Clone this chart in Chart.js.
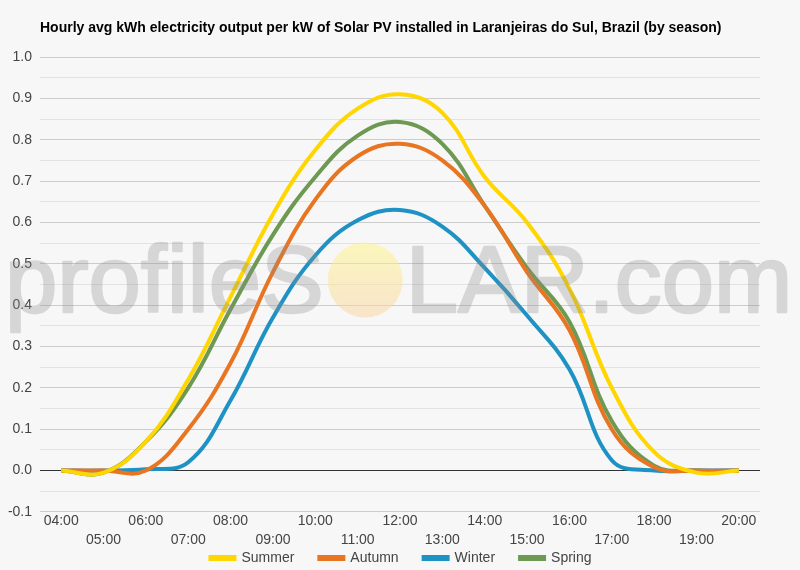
<!DOCTYPE html>
<html>
<head>
<meta charset="utf-8">
<script src="https://cdn.jsdelivr.net/npm/chart.js@4.4.1/dist/chart.umd.min.js"></script>
<style>
  html, body { margin: 0; padding: 0; background: #f7f7f7; }
  #wrap { width: 800px; height: 570px; }
</style>
</head>
<body>
<div id="wrap"><canvas id="pv_chart" width="800" height="570"></canvas></div>
<script>
// hourly values
var hours = ['04:00', '05:00', '06:00', '07:00', '08:00', '09:00', '10:00', '11:00', '12:00',
             '13:00', '14:00', '15:00', '16:00', '17:00', '18:00', '19:00', '20:00'];
var summer = [0, -0.005, 0.07, 0.22, 0.42, 0.62, 0.775, 0.875, 0.91, 0.865, 0.71, 0.60, 0.44, 0.20, 0.045, -0.005, 0];
var autumn = [0, 0, 0, 0.10, 0.26, 0.48, 0.655, 0.76, 0.79, 0.75, 0.64, 0.48, 0.34, 0.10, 0.008, 0, 0];
var winter = [0, 0, 0.003, 0.02, 0.17, 0.37, 0.52, 0.605, 0.63, 0.59, 0.49, 0.375, 0.245, 0.025, 0, 0, 0];
var spring = [0, -0.005, 0.07, 0.20, 0.39, 0.57, 0.71, 0.81, 0.843, 0.79, 0.64, 0.49, 0.36, 0.12, 0.012, 0, 0];

var titleText = 'Hourly avg kWh electricity output per kW of Solar PV installed in Laranjeiras do Sul, Brazil (by season)';
var FONT = 'Arial, "Liberation Sans", sans-serif';

// even hours on the first row, odd hours on the second
var xLabels = hours.map(function (h, i) { return i % 2 ? ['', h] : [h]; });

function series(label, data, color) {
    return {
        label: label,
        data: data,
        borderColor: color,
        backgroundColor: color,
        borderWidth: 4,
        tension: 0.4,
        pointRadius: 0,
        fill: false
    };
}

// watermark is drawn once on its own canvas, then laid over the plot semi-transparent
function makeWatermark() {
    var c = document.createElement('canvas');
    c.width = 800; c.height = 570;
    var w = c.getContext('2d');
    w.font = '94px ' + FONT;
    w.fillStyle = 'rgb(140,140,140)';
    w.strokeStyle = 'rgb(140,140,140)';
    w.lineWidth = 2.5;
    w.lineJoin = 'round';
    var x0 = 5, base = 312;
    w.fillText('profileS', x0, base);
    w.strokeText('profileS', x0, base);
    var w1 = w.measureText('profileS').width;
    var r = 37.5, cx = x0 + w1 + r + 4;
    w.fillText('LAR.com', cx + r + 3, base);
    w.strokeText('LAR.com', cx + r + 3, base);
    return { img: c, cx: cx, cy: 280, r: r };
}
var mark = makeWatermark();

var LEGEND_Y = 558;
var LEGEND_SHIFT = 21;

var decor = {
    id: 'decor',
    afterInit: function (chart) {
        // the legend shares its row with the second line of hour labels
        var lg = chart.legend;
        var fit = lg.fit;
        lg.fit = function () {
            fit.call(this);
            this.height = 20;
        };
        var draw = lg.draw;
        lg.draw = function () {
            var t = this.top, l = this.left, r = this.right;
            var opts = this.options.labels;
            this.top = LEGEND_Y - opts.padding - opts.font.size / 2;
            this.left = l + LEGEND_SHIFT;
            this.right = r + LEGEND_SHIFT;
            draw.call(this);
            this.top = t; this.left = l; this.right = r;
        };
    },
    beforeDraw: function (chart) {
        var ctx = chart.ctx;
        ctx.save();
        ctx.fillStyle = '#f7f7f7';
        ctx.fillRect(0, 0, chart.width, chart.height);
        ctx.fillStyle = '#000';
        ctx.font = 'bold 14px ' + FONT;
        ctx.textBaseline = 'middle';
        ctx.fillText(titleText, 40, 28);
        ctx.restore();
    },
    afterDatasetsDraw: function (chart) {
        var ctx = chart.ctx;
        ctx.save();
        ctx.globalAlpha = 0.3;
        ctx.drawImage(mark.img, 0, 0);
        ctx.globalAlpha = 1;
        var g = ctx.createLinearGradient(0, mark.cy - mark.r, 0, mark.cy + mark.r);
        g.addColorStop(0, 'rgba(255,245,130,0.5)');
        g.addColorStop(1, 'rgba(250,210,160,0.5)');
        ctx.fillStyle = g;
        ctx.beginPath();
        ctx.arc(mark.cx, mark.cy, mark.r, 0, Math.PI * 2);
        ctx.fill();
        ctx.restore();
    }
};

var ctx = document.getElementById('pv_chart').getContext('2d');

var myChart = new Chart(ctx, {
    type: 'line',
    data: {
        labels: xLabels,
        datasets: [
            series('Summer', summer, 'rgb(255,214,0)'),
            series('Autumn', autumn, 'rgb(232,117,34)'),
            series('Winter', winter, 'rgb(30,146,196)'),
            series('Spring', spring, 'rgb(109,153,82)')
        ]
    },
    options: {
        responsive: false,
        animation: false,
        layout: { padding: { top: 57, right: 40, left: 0, bottom: 0 } },
        plugins: {
            legend: {
                position: 'bottom',
                labels: {
                    boxWidth: 24,
                    boxHeight: 2,
                    padding: 25,
                    color: '#444',
                    font: { family: FONT, size: 14 }
                }
            },
            tooltip: { enabled: false },
            title: { display: false }
        },
        scales: {
            x: {
                offset: true,
                grid: { display: false, drawTicks: false },
                border: { display: false },
                ticks: {
                    autoSkip: false,
                    maxRotation: 0,
                    padding: 0,
                    color: '#444',
                    font: { family: FONT, size: 14, lineHeight: 1.36 }
                }
            },
            y: {
                min: -0.1,
                max: 1.0,
                afterFit: function (scale) { scale.width = 40; },
                border: { display: false },
                grid: {
                    drawTicks: false,
                    color: function (c) {
                        var v = Math.round(c.tick.value * 100);
                        if (v === 0) return '#333';
                        return v % 10 === 0 ? '#cccccc' : '#e2e2e2';
                    }
                },
                ticks: {
                    stepSize: 0.05,
                    padding: 8,
                    color: '#444',
                    font: { family: FONT, size: 14 },
                    callback: function (v) {
                        var n = Math.round(v * 100);
                        return n % 10 === 0 ? (n / 100).toFixed(1) : '';
                    }
                }
            }
        }
    },
    plugins: [decor]
});
</script>
</body>
</html>
